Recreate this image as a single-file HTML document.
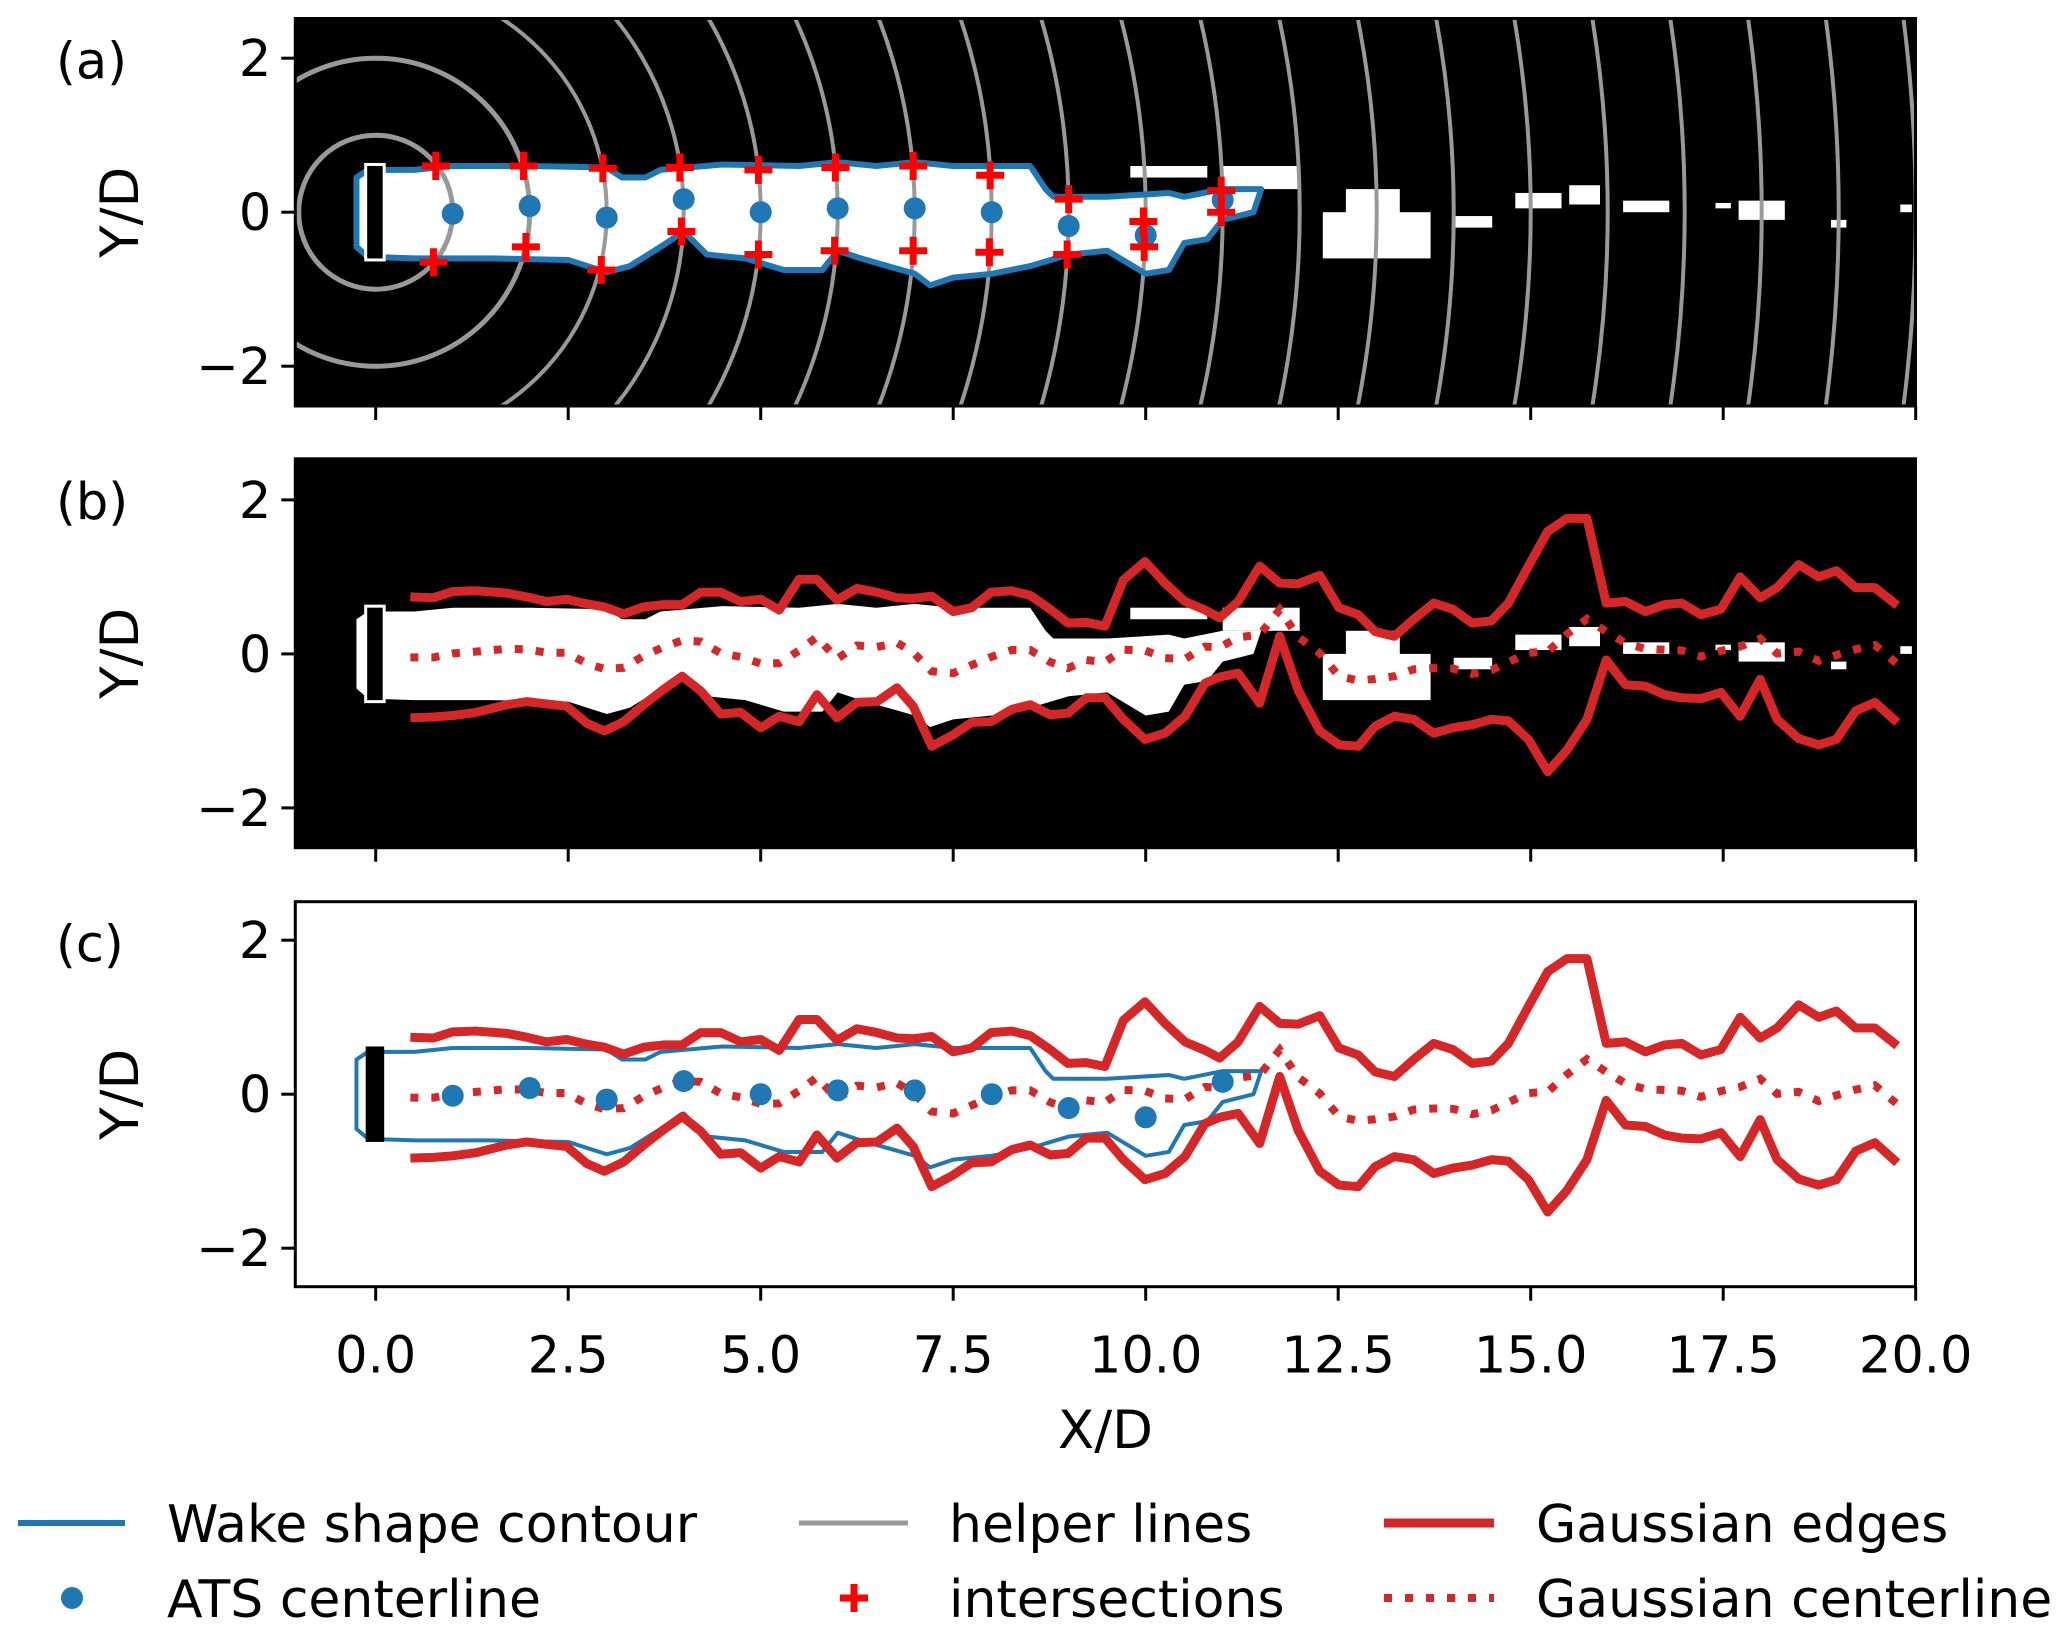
<!DOCTYPE html>
<html><head><meta charset="utf-8"><style>
html,body{margin:0;padding:0;background:#fff;overflow:hidden;width:2067px;height:1634px;}
svg{display:block;font-family:"DejaVu Sans","Liberation Sans",sans-serif;}
</style></head><body>
<svg id="fig" xmlns="http://www.w3.org/2000/svg" width="2067" height="1634" viewBox="0 0 2067 1634"></svg>
<script>
// ---- data ----
const edgeX = [0.45,0.75,1.0,1.3,1.7,1.96,2.22,2.48,2.74,2.97,3.22,3.48,3.74,3.98,4.22,4.48,4.74,5.0,5.24,5.5,5.73,5.99,6.25,6.51,6.77,6.98,7.22,7.5,7.74,7.99,8.26,8.5,8.76,8.99,9.23,9.47,9.71,9.99,10.25,10.51,10.77,10.96,11.2,11.48,11.74,11.98,12.26,12.51,12.76,12.98,13.23,13.48,13.74,13.99,14.24,14.49,14.71,14.97,15.22,15.47,15.73,15.98,16.23,16.49,16.74,16.96,17.21,17.47,17.72,17.98,18.2,18.48,18.74,18.97,19.22,19.47,19.76];
const upperEdge = [0.74,0.73,0.81,0.82,0.79,0.74,0.68,0.71,0.65,0.61,0.52,0.61,0.64,0.64,0.8,0.8,0.68,0.71,0.57,0.97,0.97,0.70,0.85,0.8,0.73,0.72,0.75,0.55,0.6,0.8,0.82,0.76,0.58,0.4,0.41,0.36,0.96,1.2,0.92,0.68,0.57,0.47,0.68,1.14,0.92,0.91,1.02,0.6,0.51,0.29,0.23,0.45,0.66,0.58,0.4,0.43,0.66,1.14,1.59,1.76,1.76,0.66,0.68,0.55,0.64,0.66,0.51,0.58,1.0,0.73,0.86,1.16,1.0,1.08,0.86,0.86,0.63];
const lowerEdge = [-0.83,-0.82,-0.8,-0.76,-0.66,-0.62,-0.65,-0.68,-0.9,-1.0,-0.88,-0.66,-0.46,-0.29,-0.48,-0.78,-0.76,-0.96,-0.81,-0.88,-0.53,-0.83,-0.63,-0.62,-0.44,-0.68,-1.2,-1.05,-0.89,-0.88,-0.72,-0.66,-0.79,-0.77,-0.57,-0.57,-0.85,-1.11,-1.03,-0.81,-0.38,-0.3,-0.25,-0.64,0.23,-0.47,-1.0,-1.18,-1.2,-0.94,-0.81,-0.85,-1.03,-0.96,-0.92,-0.85,-0.87,-1.11,-1.53,-1.25,-0.85,-0.08,-0.4,-0.42,-0.53,-0.57,-0.58,-0.5,-0.81,-0.33,-0.85,-1.1,-1.18,-1.11,-0.74,-0.63,-0.89];
const atsX = [1,2,3,4,5,6,7,8,9,10,11];
const atsY = [-0.02,0.08,-0.07,0.17,0.0,0.05,0.05,0.0,-0.18,-0.3,0.16];
const crossX = [0.78,1.92,2.95,3.95,4.97,5.97,6.98,7.98,9.0,9.97,10.98, 0.75,1.95,2.93,3.97,4.97,5.96,6.98,7.97,8.98,9.98,10.98];
const crossY = [0.6,0.6,0.57,0.58,0.55,0.58,0.6,0.48,0.17,-0.12,0.28, -0.65,-0.45,-0.75,-0.25,-0.55,-0.5,-0.5,-0.52,-0.55,-0.45,0.0];
const helperRadii = [1,2,3,4,5,6,7,8,9,10,11,12,13,14,15,16,17,18,19,20,21,22];
const wakeX = [-0.25,-0.1,0.5,1.0,2.0,3.0,3.2,3.5,3.7,4.5,5.5,6.0,6.5,7.0,7.5,8.5,8.7,8.8,9.5,10.3,10.5,11.0,11.5,11.4,11.0,10.8,10.5,10.3,10.0,9.5,9.0,8.5,8.0,7.5,7.2,7.0,6.3,6.0,5.8,5.3,4.8,4.3,4.0,3.7,3.3,3.0,2.5,1.5,0.5,-0.1,-0.25];
const wakeY = [0.45,0.55,0.55,0.6,0.6,0.58,0.45,0.45,0.55,0.62,0.6,0.65,0.6,0.65,0.6,0.6,0.3,0.2,0.2,0.25,0.2,0.3,0.3,0.0,-0.1,-0.35,-0.4,-0.75,-0.8,-0.5,-0.55,-0.7,-0.8,-0.85,-0.95,-0.8,-0.6,-0.5,-0.75,-0.75,-0.6,-0.55,-0.25,-0.45,-0.7,-0.78,-0.62,-0.6,-0.6,-0.58,-0.45];
const blobX0 = [9.8,11.0,12.3,12.6,14.8,15.5,16.2,17.4,17.7,18.9,19.8,14.0];
const blobX1 = [10.8,12.0,13.7,13.3,15.4,15.9,16.8,17.6,18.3,19.1,19.95,14.5];
const blobY0 = [0.45,0.3,-0.6,-0.1,0.05,0.1,0.0,0.05,-0.1,-0.2,0.0,-0.2];
const blobY1 = [0.6,0.6,0.0,0.3,0.25,0.35,0.15,0.12,0.15,-0.1,0.1,-0.05];
const xTicks = [0,2.5,5,7.5,10,12.5,15,17.5,20];
const xTickLabels = ["0.0","2.5","5.0","7.5","10.0","12.5","15.0","17.5","20.0"];
const yTicks = [2,0,-2];
const yTickLabels = ["2","0","\u22122"];

// ---- layout ----
const NS="http://www.w3.org/2000/svg";
const svg=document.getElementById('fig');
const L=295.3,R=1915.5,X0=375.7,S=77;
const FS=51;
const panels=[{key:'a',top:18.5,bot:406,y0:212.2},{key:'b',top:458.8,bot:847.7,y0:653.9},{key:'c',top:901.7,bot:1286.7,y0:1094.2}];
const X=x=>X0+S*x;
function el(tag,attrs,parent){const e=document.createElementNS(NS,tag);for(const k in attrs)e.setAttribute(k,attrs[k]);(parent||svg).appendChild(e);return e;}
const defs=el('defs',{});

panels.forEach((p,pi)=>{
  const Y=y=>p.y0-S*y;
  const cp=el('clipPath',{id:'clip'+p.key},defs);
  el('rect',{x:L,y:p.top,width:R-L,height:p.bot-p.top},cp);
  const g=el('g',{});
  
  
  const bg=el('rect',{x:L,y:p.top,width:R-L,height:p.bot-p.top,fill:p.key==='c'?'#fff':'#000'},g);
  
  
  const inner=el('g',{'clip-path':'url(#clip'+p.key+')'},g);
  const wakePts=wakeX.map((x,i)=>X(x)+','+Y(wakeY[i])).join(' ');
  if(p.key!=='c'){
    const wk=el('polygon',{points:wakePts,fill:'#fff'},inner);
    
    
    blobX0.forEach((x0,i)=>{
      const b=el('rect',{x:X(x0),y:Y(blobY1[i]),width:X(blobX1[i])-X(x0),height:Y(blobY0[i])-Y(blobY1[i]),fill:'#fff'},inner);
      
      
    });
  }
  if(p.key==='a'){
    helperRadii.forEach(r=>{
      const c=el('circle',{cx:X(0),cy:Y(0),r:S*r,fill:'none',stroke:'#999',"stroke-width":r<3?5:4},inner);
      
      
    });
  }
  if(p.key!=='b'){
    const ct=el('polygon',{points:wakePts,fill:'none',stroke:'#1f77b4','stroke-width':p.key==='a'?6:4,'stroke-linejoin':'round'},inner);
    
    
  }
  const pl=el('rect',{x:X(-0.13),y:Y(0.62),width:S*0.24,height:S*1.24,fill:'#000',stroke:p.key==='c'?'none':'#fff','stroke-width':3},inner);
  
  
  if(p.key!=='a'){
    const up=el('polyline',{points:edgeX.map((x,i)=>X(x)+','+Y(upperEdge[i])).join(' '),fill:'none',stroke:'#d62728','stroke-width':9,'stroke-linejoin':'round'},inner);
    
    
    const lo=el('polyline',{points:edgeX.map((x,i)=>X(x)+','+Y(lowerEdge[i])).join(' '),fill:'none',stroke:'#d62728','stroke-width':9,'stroke-linejoin':'round'},inner);
    
    
    const cl=el('polyline',{points:edgeX.map((x,i)=>X(x)+','+Y((upperEdge[i]+lowerEdge[i])/2)).join(' '),fill:'none',stroke:'#d62728','stroke-width':8,'stroke-dasharray':'8 13'},inner);
    
    
  }
  if(p.key!=='b'){
    atsX.forEach((x,i)=>{
      const d=el('circle',{cx:X(x),cy:Y(atsY[i]),r:11,fill:'#1f77b4'},inner);
      
      
    });
  }
  if(p.key==='a'){
    crossX.forEach((x,i)=>{
      const cx=X(x),cy=Y(crossY[i]);
      const c=el('path',{d:`M${cx-14},${cy}H${cx+14}M${cx},${cy-14}V${cy+14}`,stroke:'#ff0000','stroke-width':7},inner);
      
      
    });
  }
  const fr=el('rect',{x:L,y:p.top,width:R-L,height:p.bot-p.top,fill:'none',stroke:'#000','stroke-width':3},g);
  
  
  yTicks.forEach((v,i)=>{
    el('line',{x1:L-14,x2:L,y1:Y(v),y2:Y(v),stroke:'#000','stroke-width':3},g);
    const t=el('text',{x:L-24,y:Y(v)+18,'font-size':FS,'text-anchor':'end'},g);
    t.textContent=yTickLabels[i];
    
    
  });
  xTicks.forEach((v,i)=>{
    el('line',{x1:X(v),x2:X(v),y1:p.bot,y2:p.bot+14,stroke:'#000','stroke-width':3},g);
    if(p.key==='c'){
      const t=el('text',{x:X(v),y:p.bot+86,'font-size':FS,'text-anchor':'middle'},g);
      t.textContent=xTickLabels[i];
      
      
    }
  });
  const yl=el('text',{x:0,y:0,'font-size':53,'text-anchor':'middle',transform:`translate(138,${(p.top+p.bot)/2}) rotate(-90)`},g);
  yl.textContent='Y/D';
  
  
  const pl2=el('text',{x:56,y:p.top+60,'font-size':FS},g);
  pl2.textContent='('+p.key+')';
  
  
});
const xl=el('text',{x:(L+R)/2,y:1448,'font-size':53,'text-anchor':'middle'});
xl.textContent='X/D';



const lg=el('g',{});


const r1=1523,r2=1598;
function ltext(x,y,s,name){const t=el('text',{x:x,y:y+19,'font-size':52},lg);t.textContent=s;}
el('line',{x1:18,x2:125,y1:r1,y2:r1,stroke:'#1f77b4','stroke-width':6},lg);
ltext(167,r1,'Wake shape contour','legend-entry-wake-contour');
el('circle',{cx:72,cy:r2,r:11,fill:'#1f77b4'},lg);
ltext(167,r2,'ATS centerline','legend-entry-ats-centerline');
el('line',{x1:799,x2:908,y1:r1,y2:r1,stroke:'#999','stroke-width':5},lg);
ltext(949,r1,'helper lines','legend-entry-helper-lines');
el('path',{d:`M840,${r2}H868M854,${r2-14}V${r2+14}`,stroke:'#ff0000','stroke-width':7},lg);
ltext(949,r2,'intersections','legend-entry-intersections');
el('line',{x1:1384,x2:1494,y1:r1,y2:r1,stroke:'#d62728','stroke-width':9},lg);
ltext(1536,r1,'Gaussian edges','legend-entry-gaussian-edges');
el('line',{x1:1384,x2:1494,y1:r2,y2:r2,stroke:'#d62728','stroke-width':8,'stroke-dasharray':'8 13'},lg);
ltext(1536,r2,'Gaussian centerline','legend-entry-gaussian-centerline');
</script>
</body></html>
